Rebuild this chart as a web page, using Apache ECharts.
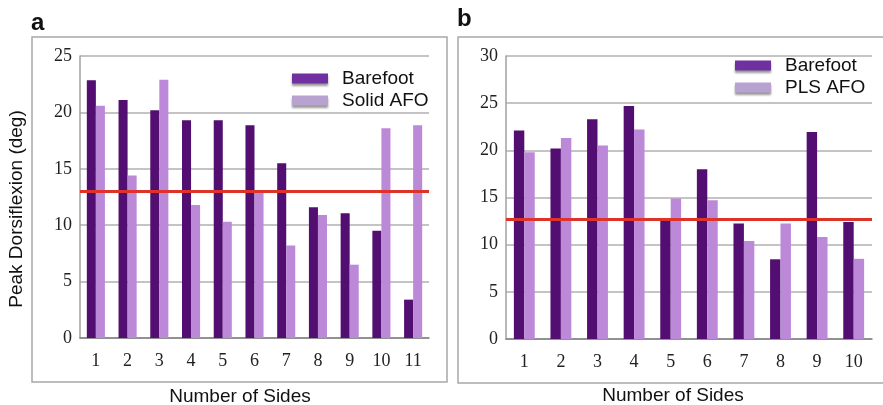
<!DOCTYPE html>
<html>
<head>
<meta charset="utf-8">
<script src="https://cdn.jsdelivr.net/npm/echarts@6/dist/echarts.min.js"></script>
<style>
  html, body { margin: 0; padding: 0; background: #fff; }
  #chart { width: 883px; height: 405px; }
</style>
</head>
<body>
<div id="chart"></div>
<script>
// panel a
const sidesA = ['1', '2', '3', '4', '5', '6', '7', '8', '9', '10', '11']
const barefootA = [22.85, 21.1, 20.2, 19.3, 19.3, 18.85, 15.5, 11.6, 11.05, 9.5, 3.4]
const solidAfo = [20.6, 14.4, 22.9, 11.8, 10.3, 13.0, 8.2, 10.9, 6.5, 18.6, 18.85]
const refLineA = 13.05

// panel b
const sidesB = ['1', '2', '3', '4', '5', '6', '7', '8', '9', '10']
const barefootB = [22.1, 20.2, 23.3, 24.7, 12.6, 18.0, 12.25, 8.45, 21.95, 12.4]
const plsAfo = [19.8, 21.3, 20.5, 22.2, 14.9, 14.7, 10.4, 12.25, 10.8, 8.5]
const refLineB = 12.65

const darkPurple = '#520e70'
const lightPurple = '#bc88d8'
const serif = '"Liberation Serif", "DejaVu Serif", serif'
const sans = '"Liberation Sans", Arial, sans-serif'

let myChart = echarts.init(document.getElementById('chart'))

function yAxisOf(gridIndex, max) {
  return {
    type: 'value',
    gridIndex: gridIndex,
    min: 0,
    max: max,
    interval: 5,
    axisLine: {show: true, lineStyle: {color: '#a0a0a0', width: 1.5}},
    axisTick: {show: false},
    axisLabel: {color: '#222', fontFamily: serif, fontSize: 18, margin: 8},
    splitLine: {lineStyle: {color: '#b0b0b0', width: 1.5}}
  }
}

function xAxisOf(gridIndex, data) {
  return {
    type: 'category',
    gridIndex: gridIndex,
    data: data,
    axisLine: {lineStyle: {color: '#808080', width: 1.5}},
    axisTick: {show: false},
    axisLabel: {color: '#222', fontFamily: serif, fontSize: 18, margin: 14}
  }
}

function barSeries(name, data, color, idx, mark) {
  let s = {
    name: name,
    type: 'bar',
    xAxisIndex: idx,
    yAxisIndex: idx,
    data: data,
    barGap: '0%',
    barCategoryGap: '43%',
    itemStyle: {color: color}
  }
  if (mark != null) {
    s.markLine = {
      silent: true,
      symbol: 'none',
      label: {show: false},
      lineStyle: {color: '#dd3328', width: 3, type: 'solid'},
      data: [{yAxis: mark}]
    }
  }
  return s
}

function legendOf(left, top, names, colors) {
  return {
    orient: 'vertical',
    left: left,
    top: top,
    padding: 0,
    itemWidth: 36,
    itemHeight: 10,
    itemGap: 3,
    icon: 'rect',
    textStyle: {color: '#111', fontFamily: sans, fontSize: 19, padding: [0, 0, 0, 9]},
    data: names.map((n, i) => ({
      name: n,
      itemStyle: {color: colors[i], shadowBlur: 2, shadowColor: 'rgba(0,0,0,0.4)', shadowOffsetY: 2}
    }))
  }
}

let option = {
  animation: false,
  grid: [
    {left: 80, top: 56, width: 349, height: 282},
    {left: 506, top: 56, width: 366, height: 283}
  ],
  xAxis: [xAxisOf(0, sidesA), xAxisOf(1, sidesB)],
  yAxis: [yAxisOf(0, 25), yAxisOf(1, 30)],
  legend: [
    legendOf(292, 69, ['Barefoot', 'Solid AFO'], ['#7030a0', '#b8a2d0']),
    legendOf(735, 56, ['Barefoot ', 'PLS AFO'], ['#7030a0', '#b8a2d0'])
  ],
  series: [
    barSeries('Barefoot', barefootA, darkPurple, 0, refLineA),
    barSeries('Solid AFO', solidAfo, lightPurple, 0, null),
    barSeries('Barefoot ', barefootB, darkPurple, 1, refLineB),
    barSeries('PLS AFO', plsAfo, lightPurple, 1, null)
  ],
  graphic: [
    {type: 'rect', shape: {x: 32, y: 37, width: 415, height: 345}, style: {fill: 'none', stroke: '#a8a8a8', lineWidth: 1.5}, z: -1},
    {type: 'rect', shape: {x: 458, y: 37, width: 440, height: 346}, style: {fill: 'none', stroke: '#a8a8a8', lineWidth: 1.5}, z: -1},
    {type: 'text', left: 31, top: 11, style: {text: 'a', font: 'bold 24px ' + sans, fill: '#111'}},
    {type: 'text', left: 457, top: 7, style: {text: 'b', font: 'bold 24px ' + sans, fill: '#111'}},
    {type: 'text', x: 240, y: 397, style: {text: 'Number of Sides', font: '19px ' + sans, fill: '#111', align: 'center', verticalAlign: 'middle'}},
    {type: 'text', x: 673, y: 396, style: {text: 'Number of Sides', font: '19px ' + sans, fill: '#111', align: 'center', verticalAlign: 'middle'}},
    {type: 'text', x: 17, y: 209, rotation: Math.PI / 2, style: {text: 'Peak Dorsiflexion (deg)', font: '19px ' + sans, fill: '#111', align: 'center', verticalAlign: 'middle'}}
  ]
}

myChart.setOption(option)
</script>
</body>
</html>
